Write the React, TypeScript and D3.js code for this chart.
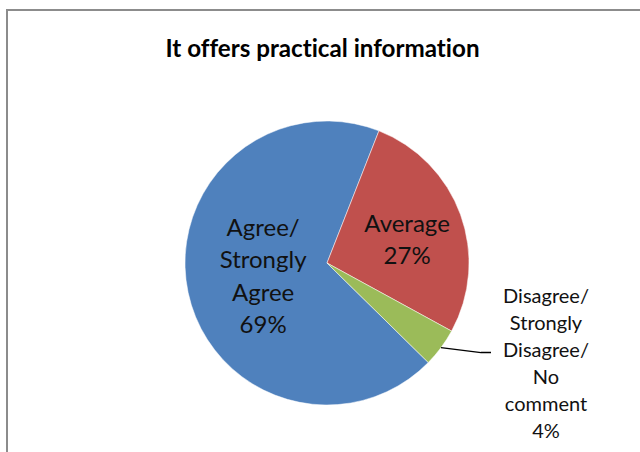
import React from "react";
import * as d3 from "d3";

const title = "It offers practical information";
const categories = ["Agree/ Strongly Agree", "Average", "Disagree/ Strongly Disagree/ No comment"];
const labelLines = [
  ["Agree/", "Strongly", "Agree", "69%"],
  ["Average", "27%"],
  ["Disagree/", "Strongly", "Disagree/", "No", "comment", "4%"],
];
const values = [68.6, 27.0, 4.4];
const colors = ["#4F81BD", "#C0504D", "#9BBB59"];

const W = 640;
const H = 452;
const cx = 327;
const cy = 263;
const R = 142;
const startDeg = 134.5;
const FONT = "Lato, 'Open Sans', sans-serif";

export default function App() {
  const pie = d3
    .pie<number>()
    .sort(null)
    .value((d) => d)
    .startAngle((startDeg * Math.PI) / 180)
    .endAngle((startDeg * Math.PI) / 180 + 2 * Math.PI);
  const arcs = pie(values);
  const arc = d3.arc<d3.PieArcDatum<number>>().innerRadius(0).outerRadius(R);
  const labelRadius = [0.46 * R, 0.6 * R];
  const labelDy = [0, 6];
  const pos = (d: d3.PieArcDatum<number>, r: number) => {
    const a = (d.startAngle + d.endAngle) / 2;
    return [Math.sin(a) * r, -Math.cos(a) * r];
  };

  // leader line for the small slice
  const small = arcs[2];
  const [sx, sy] = pos(small, R);
  const lx1 = cx + sx + 40;
  const ly1 = cy + sy + 5;
  const lx2 = lx1 + 10;
  const outerLabelX = 546;
  const outerLabelTop = 297 - cy;
  const noLig = { fontVariantLigatures: "none" as const };

  return (
    <svg width={W} height={H} style={{ position: "absolute", left: 0, top: 0, background: "#fff" }}>
      <rect x={7} y={10} width={W + 20} height={H + 20} fill="#fff" stroke="#8c8c8c" strokeWidth={2} />
      <text x={322.5} y={57} textAnchor="middle" fontFamily={FONT} fontWeight="bold" fontSize={24.2} fill="#000" style={noLig}>
        {title}
      </text>
      <g transform={`translate(${cx},${cy})`}>
        {arcs.map((d, i) => (
          <path key={categories[i]} d={arc(d) || ""} fill={colors[i]} stroke="#fff" strokeWidth={0.5} />
        ))}
        {arcs.slice(0, 2).map((d, i) => {
          const [x, y] = pos(d, labelRadius[i]);
          const lines = labelLines[i];
          const pitch = 32.5;
          const y0 = y - ((lines.length - 1) * pitch) / 2 + 8 + labelDy[i];
          return (
            <text key={"l" + i} textAnchor="middle" fontFamily={FONT} fontSize={24} fill="#111" style={noLig}>
              {lines.map((t, j) => (
                <tspan key={j} x={x} y={y0 + j * pitch}>
                  {t}
                </tspan>
              ))}
            </text>
          );
        })}
      </g>
      <polyline
        points={`${cx + sx},${cy + sy} ${lx1},${ly1} ${lx2},${ly1}`}
        fill="none"
        stroke="#000"
        strokeWidth={1.5}
      />
      <text textAnchor="middle" fontFamily={FONT} fontSize={20} fill="#111" style={noLig}>
        {labelLines[2].map((t, j) => (
          <tspan key={j} x={outerLabelX} y={cy + outerLabelTop + 6 + j * 27}>
            {t}
          </tspan>
        ))}
      </text>
    </svg>
  );
}
